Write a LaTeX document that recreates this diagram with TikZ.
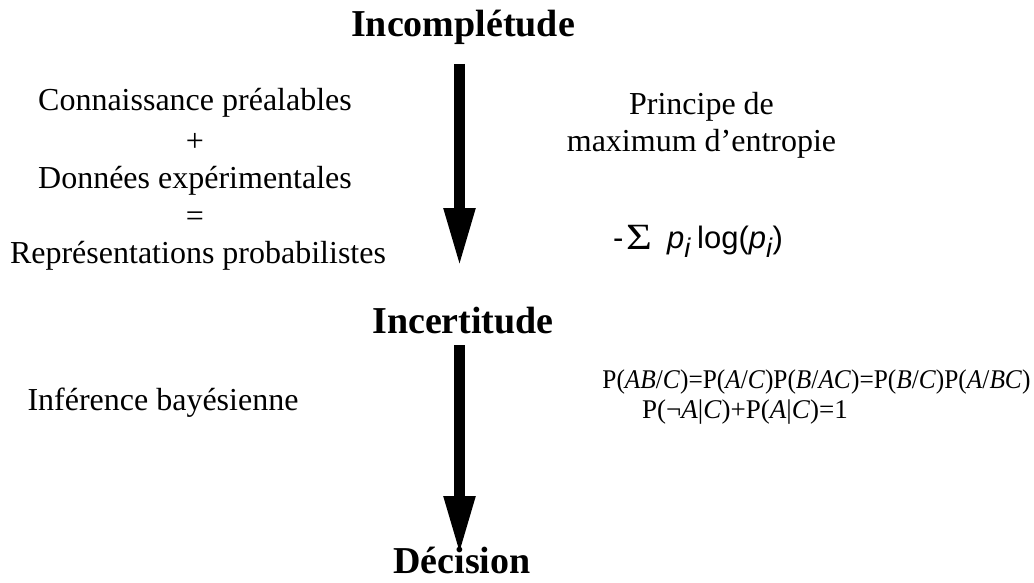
\documentclass[tikz,border=0pt]{standalone}
\usepackage{fontspec}
\usepackage{graphicx}
\setmainfont{Liberation Serif}
\newfontfamily\sansf{Liberation Sans}
\usetikzlibrary{arrows.meta}
\tikzset{
  title/.style={font=\fontsize{38}{40}\selectfont\bfseries, inner sep=0pt},
  serif/.style={font=\fontsize{32}{34}\selectfont, inner sep=0pt},
  formula/.style={font=\fontsize{27}{29}\selectfont, inner sep=0pt},
  sumpart/.style={font=\sansf\fontsize{31}{33}\selectfont, inner sep=0pt, anchor=base west},
  bigarrow/.style={line width=11pt, -{Triangle[width=29pt,length=59pt]}},
}
\newcommand{\subi}{\raisebox{-9pt}{\fontsize{27}{27}\selectfont\textit{i}}}
\begin{document}
\begin{tikzpicture}[x=1pt,y=-1pt]
\useasboundingbox (0,0) rectangle (1034,583);
\node[title] (incomp) at (463,27) {Incomplétude};
\node[title] (incert) at (463,321) {Incertitude};
\node[title] (dec) at (462,560) {Décision};
\coordinate (a1s) at (459.5,64);
\coordinate (a1e) at (459.5,267);
\coordinate (a2s) at (459.5,345);
\coordinate (a2e) at (459.5,555);
\draw[bigarrow] (a1s) -- (a1e);
\draw[bigarrow] (a2s) -- (a2e);
\node[serif] (l1) at (195,103) {Connaissance préalables};
\node[serif] (l2) at (195,142) {+};
\node[serif] (l3) at (195,181) {Données expérimentales};
\node[serif] (l4) at (195,219) {=};
\node[serif] (l5) at (198,256) {Représentations probabilistes};
\node[serif, anchor=base] (r1) at (701.5,115) {Principe de};
\node[serif, anchor=base] (r2) at (701.5,152) {maximum d'entropie};
\node[sumpart] (minus) at (613,248) {-};
\node[sumpart, font=\fontsize{37}{37}\selectfont] (sigma) at (626,249) {\scalebox{1.2}[1]{Σ}};
\node[sumpart] (pi) at (667,248) {\textit{p}\subi};
\node[sumpart] (logp) at (697,248) {log(\textit{p}\subi)};
\node[serif] (inf) at (163,403) {Inférence bayésienne};
\node[formula] (f1) at (816.5,382) {\scalebox{0.938}[1]{P(\textit{AB}/\textit{C})=P(\textit{A}/\textit{C})P(\textit{B}/\textit{AC})=P(\textit{B}/\textit{C})P(\textit{A}/\textit{BC})}};
\node[formula] (f2) at (745,412) {P(¬\textit{A}|\textit{C})+P(\textit{A}|\textit{C})=1};
\end{tikzpicture}
\end{document}
